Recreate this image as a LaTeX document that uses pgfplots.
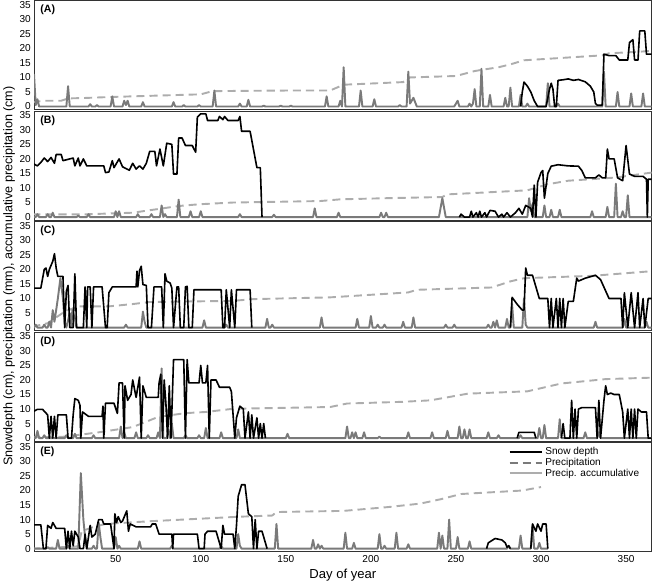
\documentclass[border=0pt]{standalone}
\usepackage{fontspec}
\setmainfont{Liberation Sans}
\usepackage{pgfplots}
\pgfplotsset{compat=1.18}
\usepgfplotslibrary{groupplots}
\definecolor{precgray}{HTML}{7A7A7A}
\definecolor{accgray}{HTML}{ADADAD}
\tikzset{
  snow/.style={black, line width=1.6pt, line join=round},
  prec/.style={precgray, line width=1.9pt, line join=round},
  acc/.style={accgray, line width=1.9pt, dash pattern=on 8pt off 5pt},
  plab/.style={anchor=north west, inner sep=0pt, font=\bfseries\fontsize{10.5}{12}\selectfont},
}
\begin{document}
\begin{tikzpicture}
\begin{groupplot}[
  group style={group size=1 by 5, vertical sep=1.5pt, xticklabels at=edge bottom},
  scale only axis, width=614pt, height=108.4pt,
  xmin=2, xmax=365, ymin=-1, ymax=36.5,
  ytick={0,5,...,35}, xtick={50,100,...,350},
  major tick length=0pt,
  axis line style={black!80, line width=0.8pt},
  tick label style={font=\fontsize{10}{11}\selectfont},
  yticklabel style={inner sep=1pt, xshift=-2pt},
  /pgf/number format/assume math mode=true,
  unbounded coords=jump,
  clip=true,
]
% ---------------- (A)
\nextgroupplot
\addplot[acc] coordinates {(1,1.5)(8,2)(18,2)(22,2.8)(30,2.9)(48,3.3)(60,3.5)(100,4.2)(107,5.3)(150,5.5)(176,5.5)(184,7.5)(219,8.4)(223,10)(250,10.5)(261,12.2)(265,12.6)(275,13.5)(282,14.5)(290,15.9)(336,17.6)(340,18.3)(365,19.1)};
\addplot[prec] coordinates {(1,0)(2,11)(3,0.5)(4,2.5)(5,0)(21,0)(22,7)(23,0)(34,0)(35,0.8)(36,0)(38,0)(39,0.5)(40,0)(47,0)(48,3.5)(49,0)(54,0)(55,2)(56,0.5)(57,2)(58,0)(65,0)(66,1.5)(67,0)(83,0)(84,1.5)(85,0)(89,0)(90,0.5)(91,0)(98,0)(99,0.5)(100,0)(107,0)(108,5.5)(109,0)(122,0)(123,1)(124,0)(127,0)(128,2.3)(129,0)(136,0)(137,0.3)(138,0)(146,0)(147,0.3)(148,0)(152,0)(153,0.3)(154,0)(173,0)(174,3.5)(175,0)(181,0)(182,2)(183,0)(184,13.5)(185,0)(193,0)(194,5.5)(195,0)(201,0)(202,2.5)(203,0)(216,0)(217,0.5)(218,0)(221,0)(222,12)(223,1)(225,3)(227,0)(249,0)(250,1)(251,2)(252,0)(257,0)(258,1)(259,0)(260,1)(261,6)(262,0)(264,0)(265,13)(266,0)(269,0)(270,4)(271,0)(278,0)(279,3)(280,0)(281,0)(282,6.5)(283,0)(287,0)(288,4)(289,0)(291,0)(292,1)(293,0)(303,0)(304,8)(305,0)(309,0)(310,1)(311,0)(336,0)(337,12)(338,0)(344,0)(345,5)(346,0)(352,0)(353,4.5)(354,0)(359,0)(360,4.5)(361,0)(365,0)};
\addplot[snow] coordinates {(288,0)(289,5)(290,8.4)(292,7)(294,5)(296,2)(298,0)(303,0)(305,6)(306,8)(307,6)(308,0)(309,0)(310,9)(313,9.2)(316,9.5)(319,9)(322,9.3)(326,8.5)(329,7)(331,5)(332,1)(333,0.5)(336,0.5)(337,18)(340,17.5)(344,17.5)(346,16)(351,16)(352,22)(354,23)(355,16)(357,16)(358,26)(361,26)(362,18)(365,18)};
\node[plab] at (rel axis cs:0.01,0.96) {(A)};
% ---------------- (B)
\nextgroupplot
\addplot[acc] coordinates {(1,0.9)(30,0.9)(60,1.5)(73,2.6)(87,3.8)(99,4.4)(119,5)(170,5.5)(182,6.1)(210,6.5)(242,6.9)(245,7.8)(292,9.2)(304,11.3)(316,12.5)(344,13.6)(365,15.3)};
\addplot[prec] coordinates {(1,0.5)(2,0)(3,0)(4,1)(5,0)(9,0)(10,1)(11,0)(12,0)(13,1.5)(14,0)(27,0)(28,0.5)(29,0)(33,0)(34,1)(35,0)(49,0)(50,2)(51,0)(52,2)(53,0)(62,0)(63,1)(64,0)(70,0)(71,1)(72,0)(76,0)(77,4)(78,0)(79,1)(80,0)(86,0)(87,6)(88,0)(93,0)(94,2)(95,0)(99,0)(100,2)(101,0)(122,0)(123,1)(124,0)(142,0)(143,0.8)(144,0)(166,0)(167,3)(168,0)(180,0)(181,1.5)(182,0)(205,0)(206,1.5)(207,0)(208,0)(209,1.5)(210,0)(240,0)(242,6.5)(244,0)(292,0)(293,6.5)(294,2)(295,4.5)(296,0)(301,0)(302,4)(303,0)(305,0)(306,2.5)(307,0)(310,0)(311,2.5)(312,0)(329,0)(330,2)(331,0)(338,0)(339,3.5)(340,0)(343,0)(344,11.5)(345,0)(347,0)(348,2)(349,0)(350,0)(351,7.5)(352,0)(365,0)};
\addplot[snow] coordinates {(1,18.5)(4,17.6)(6,18.8)(8,20.3)(10,19.1)(12,20.5)(14,18.5)(15,21.5)(18,21.5)(19,19.4)(25,20.3)(26,17.6)(28,20.3)(29,17.6)(31,20)(33,17.6)(43,17.6)(44,15.3)(46,15.5)(48,19.4)(49,17)(52,20)(54,17.3)(58,16.1)(60,18.5)(62,16.5)(64,17.6)(66,16.5)(68,18.5)(70,22.6)(73,22.6)(74,17.6)(76,23.4)(78,17.6)(80,25.4)(83,25)(84,14.8)(86,14.8)(87,27.2)(89,27.2)(91,24.6)(95,24.6)(97,22.3)(98,34.4)(100,35.5)(103,35.5)(104,33.2)(110,33.2)(111,34.6)(113,33.5)(114,34.6)(116,33.2)(122,33.2)(123,34.6)(124,29.5)(129,29.5)(133,17)(135,17)(136,0)(137,nan)(252,0)(253,1)(255,0)(258,0)(259,2)(260,0)(262,1.5)(263,0)(264,2)(265,0)(267,1.5)(268,0)(270,2.3)(273,2)(275,0)(277,1)(278,0)(280,1.5)(282,0)(285,1.5)(287,3)(289,1)(291,4)(294,3)(295,0)(296,11)(297,0)(298,12)(300,15.3)(301,16)(302,6.5)(304,15)(306,17.5)(310,18)(316,17.6)(322,17.5)(324,16)(326,13.5)(332,13.5)(334,14.5)(336,13.5)(338,13.5)(339,23.4)(340,20)(343,20)(345,13.5)(348,12.5)(350,24.6)(352,14.8)(355,14)(360,14)(362,13)(362.5,0)(363,13)(365,13)};
\node[plab] at (rel axis cs:0.01,0.96) {(B)};
% ---------------- (C)
\nextgroupplot[ylabel={Snowdepth (cm), precipitation (mm), accumulative precipitation (cm)},
  ylabel style={font=\fontsize{12.5}{14}\selectfont}]
\addplot[acc] coordinates {(1,0.3)(10,1.5)(20,5.5)(28,7.3)(46,7.3)(60,8.1)(70,8.8)(119,9.2)(131,9.8)(176,10.4)(222,12.1)(227,13)(271,13.8)(282,15.9)(290,17)(330,17.8)(365,19.4)};
\addplot[prec] coordinates {(1,0)(2,0)(3,1)(4,0)(7,0)(8,1)(9,0)(10,0)(11,2)(12,0)(13,6)(14,2)(16,10)(17.5,17)(19,10)(20,2)(21,0)(23,5)(24,0.5)(24.5,6)(26,3)(27,0)(55,0)(56,1)(57,0)(65,0)(66,5.5)(67,2)(68,0)(101,0)(102,2.5)(103,0)(114,0)(115,1)(116,0)(138,0)(139,3)(140,0)(141,0)(142,1)(143,0)(170,0)(171,3.5)(172,0)(191,0)(192,3)(193,0)(199,0)(200,4)(201,0)(203,0)(204,1)(205,0)(207,0)(208,1)(209,0)(218,0)(219,2)(220,0)(224,0)(225,3.5)(226,0)(243,0)(244,1)(245,0)(248,0)(249,1)(250,0)(268,0)(269,1)(270,0)(271,0)(272,2)(273,0)(274,2.5)(275,0)(279,0)(280,3)(281,0)(282,0)(283,8)(284,0)(289,0)(290,10)(291,1)(292,0)(331,0)(332,2)(333,0)(348,0)(349,3)(350,0)(361,0)(362,2)(363,0)(365,0)};
\addplot[snow] coordinates {(1,13.6)(6,13.6)(8,20)(9,20.5)(10,17.6)(11,20)(13,22.8)(14,25.4)(15,20.5)(16,17.6)(19,17.6)(20,0)(21,12.5)(22,14.5)(23,0)(25,0)(26,18.5)(27,0)(31,0)(32,14)(33,0)(33.5,14)(35,14)(36,0)(37,14)(42,14)(44,0)(45,0)(46,12)(48,14)(62,14)(62.5,19.4)(63,14)(64,19.6)(65,21.1)(66,14.8)(68,14.5)(69,0)(71,0)(72.5,14)(77,14)(78,0)(79,18.5)(80,16)(82,15.3)(83,13.6)(84,0)(86,14)(87,14)(88,0)(90,0)(91,14)(92,14.2)(93,0)(95,0)(96,13)(112,13)(113,0)(114,0)(115,13)(117,0)(118,13)(120,0)(121,13)(129,13)(130,0)(131,nan)(282,0)(283,10.4)(286,8)(289,6)(290,6)(291,20.5)(292,18)(295,18)(299,10)(304,10)(305,0)(306,10)(307,0)(309,10)(310,0)(311,10)(312,0)(313,10)(314,0)(316,9)(319,9)(321,17)(322,16)(326,17)(332,18)(335,16.5)(340,10)(347,10)(348,0)(349,12)(351,0)(353,12)(355,0)(357,12)(358,0)(360,10)(361,0)(363,10)(365,10)};
\node[plab] at (rel axis cs:0.01,0.96) {(C)};
% ---------------- (D)
\nextgroupplot
\addplot[acc] coordinates {(1,0.3)(20,0.5)(40,2)(60,3.8)(75,7.3)(91,8.6)(103,9)(119,10.1)(176,10.7)(186,11.9)(219,12.5)(235,13)(257,15.3)(292,16.1)(312,18.8)(338,20.3)(365,20.8)};
\addplot[prec] coordinates {(1,0)(3,0)(4,2.5)(5,0)(7,0)(8,1)(9,0)(20,0)(21,1)(22,0)(25,0)(26,1.5)(27,0)(36,0)(37,1)(38,0)(52,0)(53,4)(54,0)(55,2)(56,0)(61,0)(62,2)(63,0)(68,0)(69,1)(70,0)(74,0)(75,2)(76,0)(77,24)(78,0)(80,0)(81,3)(82,0)(83,5)(84,0)(90,0)(91,1)(92,0)(98,0)(99,1)(100,0)(102,0)(103,3.5)(104,0)(111,0)(112,2)(113,0)(121,0)(122,3)(123,0)(150,0)(151,1.5)(152,0)(185,0)(186,4)(187,0)(188,0)(189,2)(190,0)(191,2)(192,0)(195,0)(196,2)(197,0)(204,0)(205,0.5)(206,0)(221,0)(222,2)(223,0)(235,0)(236,2)(237,0)(244,0)(245,2.5)(246,0)(251,0)(252,4)(253,0)(254,0)(255,3)(256,0)(257,0)(258,3)(259,0)(268,0)(269,2)(270,0)(274,0)(275,1)(276,0)(287,0)(288,1)(289,0)(298,0)(299,3.5)(300,0)(301,0)(302,4.5)(303,0)(310,0)(311,6.5)(312,0)(325,0)(326,2)(327,0)(333,0)(334,2)(335,0)(365,0)};
\addplot[snow] coordinates {(1,9)(4,9.9)(7,9.9)(10,8)(11,0)(12,7.5)(13,0)(14,7.5)(15,0)(16,8)(21,8)(22,0)(24,0)(25,8)(26,13.6)(28,13)(29,11.3)(29.5,0)(30.5,9)(34,7.5)(42,7.5)(42.5,11)(43,0)(44,12)(49,12)(51,8.5)(52,19)(54,19)(55,0)(55.5,18)(57,13)(59,15)(60,20)(62,14)(64,21)(65,0)(66,18)(68,14)(75,14)(75.5,19)(76.5,22)(77.5,0)(78.5,20)(79.5,12)(80.5,0)(81.5,18)(82.5,0)(84,27)(90,27)(91,0)(92,27)(93,19)(99,19)(100,25)(101,19)(103,19)(104,25)(105,0)(106,20)(109,20)(111,17.5)(117,17.5)(118,16)(120,0)(121,7)(123,11)(125,10)(126,0)(128,9)(129,0)(130,8)(131,0)(133,7)(134,0)(135,5)(136,0)(137,5)(138,0)(139,nan)(286,0)(287,2)(296,2)(297,0)(298,nan)(312,0)(313,5)(314,0)(317,0)(318,13)(319,0)(320,10)(321,0)(322,10)(324,10.5)(332,10.5)(333,0)(334,13)(335,0)(337,13)(338,18)(339,15)(341,15.5)(343,15)(346,15)(348,9)(349,0)(351,10)(352,0)(353,10)(354,0)(355,10)(356,0)(357,10)(359,9)(362,9)(363,0)(365,0)};
\node[plab] at (rel axis cs:0.01,0.96) {(D)};
% ---------------- (E)
\nextgroupplot[xlabel={Day of year}, xlabel style={font=\fontsize{13}{15}\selectfont},
  legend style={at={(rel axis cs:0.985,0.985)}, anchor=north east, draw=none, fill=none,
    font=\fontsize{10}{11}\selectfont, row sep=-2pt, inner sep=1pt},
  legend cell align=left,
  legend image code/.code={\draw[#1] (0cm,0cm) -- (1.15cm,0cm);}]
\addlegendimage{black, line width=1.6pt}
\addlegendentry{Snow depth}
\addlegendimage{precgray, line width=1.9pt, dash pattern=on 8pt off 5pt}
\addlegendentry{Precipitation}
\addlegendimage{accgray, line width=1.9pt}
\addlegendentry{Precip. accumulative}
\addplot[acc, forget plot] coordinates {(1,0)(28,0.8)(30,6)(36,7.3)(44,8.5)(69,9.4)(123,11)(142,11.4)(144.5,12.6)(184,13)(210,14.3)(229,15.5)(241,17)(253,18.8)(289,20)(300,21.2)};
\addplot[prec, forget plot] coordinates {(1,0)(9,0)(10,0.5)(11,0)(15,0)(16,3)(17,0)(21,0)(22,1)(23,0)(28,0)(29.5,26)(31,10)(32,4)(33,0)(36,0)(37,1)(38,0)(39,0)(40,9)(41,4)(42,0)(49,0)(50,4)(51,0)(52,1)(53,0)(63,0)(64,2.5)(65,0)(82,0)(83,1)(84,0)(111,0)(112,1)(113,0)(121,0)(122,5)(123,1)(124,0)(143.5,0)(144.5,8.5)(145.5,0)(165,0)(166,3)(167,0)(168,0)(169,1.5)(170,0)(171,1)(172,0)(184,0)(185,5.5)(186,0)(189,0)(190,2)(191,0)(204,0)(205,5)(206,0)(207,0)(208,1)(209,0)(214,0)(215,5.5)(216,0)(221,0)(222,1.5)(223,0)(239,0)(240,5.5)(241,0)(242,4.5)(243,0)(245,0)(246,10)(247,0)(250,0)(251,4)(252,0)(257,0)(258,2.5)(259,0)(280,0)(281,1)(282,0)(287,0)(288,4.5)(289,0)(294,0)(295,8)(296,0)(298,0)(299,2)(300,0)(304,0)};
\addplot[snow, forget plot] coordinates {(1,8.2)(6,8.2)(7.5,0)(9,0)(10,8)(12,7)(13,9)(15,7)(20,7)(21,0)(22,6)(23,0)(24,6)(25,1)(26,6)(28,4)(29,0)(31,0)(32,5)(33,0)(35,8)(36,4)(38,5)(40,10)(42,10)(43,8.5)(47,8.5)(49,0)(49.5,12)(50.5,9)(51.5,11)(53,9)(54,9.5)(56.5,13)(57.5,6)(58.5,8.5)(62,7.5)(70.5,7.5)(71.5,8.5)(73.5,8.5)(75.5,5)(83,5)(83.5,0)(84,5)(98,5)(99,0)(102,0)(102.5,5)(104,6)(109,6)(112,0)(113,8)(114,5)(119,5)(120,0)(121,8)(122,18)(124,22)(126,22)(128,12)(130,11)(131,0)(132,10)(133,0)(134,6)(136,6)(139,0)(140,nan)(268,0)(269,2)(273,3.5)(277,3)(279,2)(280,0.5)(281,1)(282,0)(283,nan)(294,0)(295,8.5)(297,6)(298,8.5)(300,6)(301,8.5)(303,8.5)(304,0)};
\node[plab] at (rel axis cs:0.01,0.96) {(E)};
\end{groupplot}
\end{tikzpicture}
\end{document}
